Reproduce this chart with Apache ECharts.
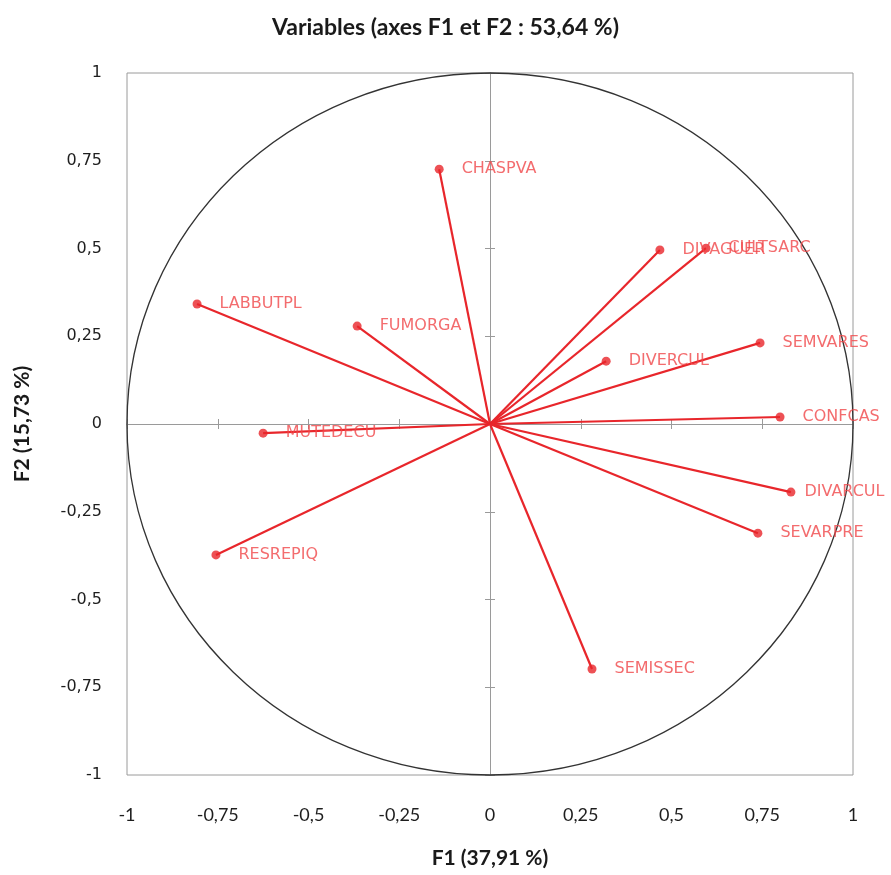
<!DOCTYPE html>
<html>
<head>
<meta charset="utf-8">
<script src="https://cdn.jsdelivr.net/npm/echarts@6/dist/echarts.min.js"></script>
<style>
  html, body { margin: 0; padding: 0; background: #ffffff; }
  #chart { width: 891px; height: 875px; }
</style>
</head>
<body>
<div id="chart"></div>
<script>
// Correlation circle: variable loadings on the first two factors
const variables = ['CHASPVA', 'DIVAGUER', 'CULTSARC', 'LABBUTPL', 'FUMORGA', 'DIVERCUL', 'SEMVARES',
                   'CONFCAS', 'MUTEDECU', 'DIVARCUL', 'SEVARPRE', 'RESREPIQ', 'SEMISSEC'];
const f1 = [-0.140, 0.468, 0.595, -0.807, -0.366, 0.320, 0.744, 0.799, -0.625, 0.829, 0.738, -0.755, 0.281];
const f2 = [0.726, 0.496, 0.501, 0.342, 0.279, 0.179, 0.231, 0.020, -0.026, -0.194, -0.311, -0.373, -0.698];
const tickValues = [-1, -0.75, -0.5, -0.25, 0, 0.25, 0.5, 0.75, 1];

const red = '#e8262b';
const labelRed = '#f0474a';
const axisGrey = '#9a9a9a';
const fmt = v => String(v).replace('.', ',');

const chart = echarts.init(document.getElementById('chart'));

const valueAxisBase = { type: 'value', min: -1, max: 1, interval: 0.25, splitLine: { show: false } };

chart.setOption({
  animation: false,
  backgroundColor: '#ffffff',
  title: {
    text: 'Variables (axes F1 et F2 : 53,64 %)',
    left: 'center',
    top: 11,
    textStyle: { fontFamily: 'Lato', fontWeight: 700, fontSize: 23, color: '#1a1a1a' }
  },
  grid: {
    left: 127, right: 38, top: 73, bottom: 100,
    show: true, borderColor: axisGrey, borderWidth: 1, backgroundColor: 'transparent'
  },
  xAxis: [
    Object.assign({}, valueAxisBase, {
      position: 'bottom',
      axisLine: { show: false, onZero: false },
      axisTick: { show: false },
      axisLabel: { formatter: fmt, margin: 31, fontFamily: 'Lato', fontSize: 18, color: '#1e1e1e' },
      name: 'F1 (37,91 %)', nameLocation: 'middle', nameGap: 73,
      nameTextStyle: { fontFamily: 'Lato', fontWeight: 700, fontSize: 21, color: '#1a1a1a' }
    }),
    Object.assign({}, valueAxisBase, {
      axisLine: { show: true, onZero: true, lineStyle: { color: axisGrey, width: 1 } },
      axisTick: { show: true, inside: false, length: 5, lineStyle: { color: axisGrey } },
      axisLabel: { show: false }
    }),
    Object.assign({}, valueAxisBase, {
      axisLine: { show: false, onZero: true },
      axisTick: { show: true, inside: true, length: 5, lineStyle: { color: axisGrey } },
      axisLabel: { show: false }
    })
  ],
  yAxis: [
    Object.assign({}, valueAxisBase, {
      position: 'left',
      axisLine: { show: false, onZero: false },
      axisTick: { show: false },
      axisLabel: { formatter: fmt, margin: 25, fontFamily: 'DejaVu Sans', fontSize: 16, color: '#1e1e1e' },
      name: 'F2 (15,73 %)', nameLocation: 'middle', nameGap: 94, nameRotate: 90,
      nameTextStyle: { fontFamily: 'Lato', fontWeight: 700, fontSize: 21, color: '#1a1a1a' }
    }),
    Object.assign({}, valueAxisBase, {
      axisLine: { show: true, onZero: true, lineStyle: { color: axisGrey, width: 1 } },
      axisTick: { show: true, inside: false, length: 5, lineStyle: { color: axisGrey } },
      axisLabel: { show: false }
    }),
    Object.assign({}, valueAxisBase, {
      axisLine: { show: false, onZero: true },
      axisTick: { show: true, inside: true, length: 5, lineStyle: { color: axisGrey } },
      axisLabel: { show: false }
    })
  ],
  series: [
    {
      // unit circle of correlations
      type: 'custom',
      z: 1,
      silent: true,
      data: [[0, 0]],
      renderItem: function (params, api) {
        const c = api.coord([0, 0]);
        const s = api.size([1, 1]);
        return {
          type: 'ellipse',
          shape: { cx: c[0], cy: c[1], rx: s[0], ry: s[1] },
          style: { fill: 'none', stroke: '#333333', lineWidth: 1.3 }
        };
      }
    },
    {
      // vectors from the origin
      type: 'lines',
      coordinateSystem: 'cartesian2d',
      z: 3,
      symbol: 'none',
      lineStyle: { color: red, width: 2.2, opacity: 1, curveness: 0 },
      data: variables.map((n, i) => ({ coords: [[0, 0], [f1[i], f2[i]]] }))
    },
    {
      type: 'scatter',
      z: 4,
      symbol: 'circle',
      symbolSize: 9,
      itemStyle: { color: red },
      label: {
        show: true,
        position: 'right',
        distance: 18,
        formatter: p => p.value[2],
        fontFamily: 'DejaVu Sans',
        fontSize: 16,
        color: labelRed
      },
      // labels nearest the right border sit closer to their point so they stay on the canvas
      data: variables.map((n, i) => ({
        value: [f1[i], f2[i], n],
        label: f1[i] > 0.82 ? { distance: 9 } : undefined
      }))
    }
  ]
});
</script>
</body>
</html>
